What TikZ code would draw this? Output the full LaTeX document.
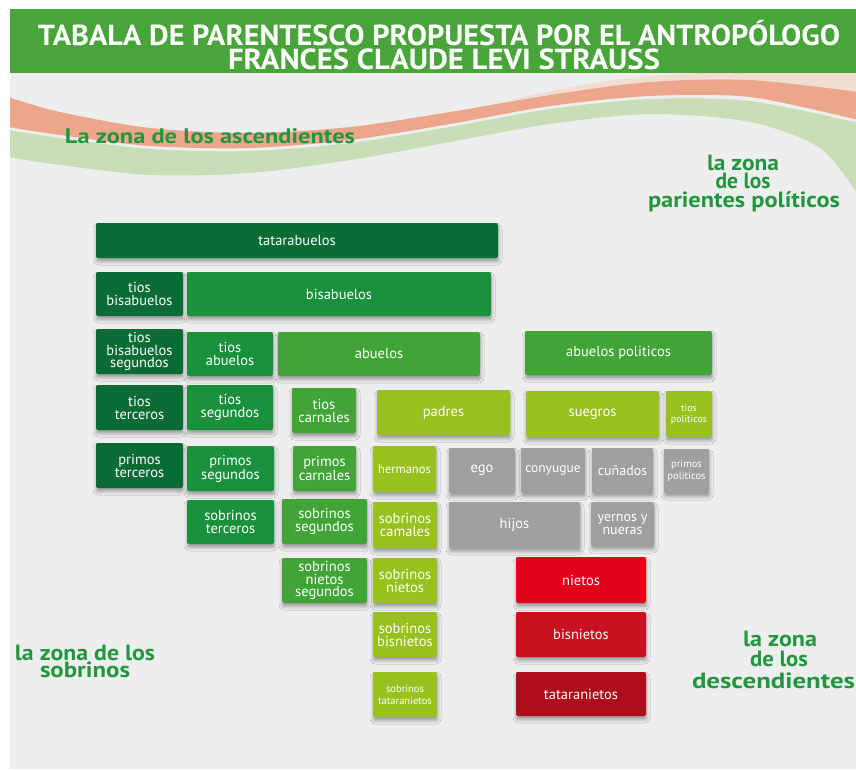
\documentclass[tikz,border=0pt]{standalone}
\usepackage{fontspec}
\setmainfont{PT Sans}
\usetikzlibrary{shadows,shadows.blur}
\definecolor{panel}{HTML}{EEEEEE}
\definecolor{hdr}{HTML}{49A43A}
\definecolor{salmon}{HTML}{EBA68B}
\definecolor{palesalmon}{HTML}{F2DDD3}
\definecolor{wavegreen}{HTML}{C8DEB6}
\definecolor{dkg}{HTML}{0B6B35}
\definecolor{mdg}{HTML}{18903C}
\definecolor{ltg}{HTML}{40A536}
\definecolor{ylg}{HTML}{96C11F}
\definecolor{gry}{HTML}{9E9FA1}
\definecolor{redA}{HTML}{E2001A}
\definecolor{redB}{HTML}{C8101F}
\definecolor{redC}{HTML}{AF0D1A}
\definecolor{lbl}{HTML}{22953F}
\newcommand{\fitw}[2]{\resizebox{#1}{\height}{#2}}
\begin{document}
\begin{tikzpicture}[x=1pt,y=-1pt,
  box/.style={rounded corners=2pt, inner sep=0pt, align=center, text=white,
    font=\fontsize{14.5}{13}\selectfont,
    blur shadow={shadow xshift=0.5pt, shadow yshift=-3.5pt, shadow blur radius=3.5pt, shadow opacity=35}},
  zonelabel/.style={text=lbl, font=\bfseries\fontsize{22}{22}\selectfont, inner sep=0pt, anchor=base},
  titletext/.style={text=white, font=\bfseries\fontsize{29}{29}\selectfont, inner sep=0pt, anchor=base}]
\useasboundingbox (0,0) rectangle (856,769);
\fill[white] (0,0) rectangle (856,769);
\fill[panel] (10,73) rectangle (856,769);
\fill[hdr] (10,9) rectangle (856,73);
% waves
\begin{scope}
\clip (10,73) rectangle (856,769);
\fill[palesalmon] plot[smooth] coordinates {(500,102) (600,82) (700,73) (856,72)}
  -- plot[smooth] coordinates {(856,92) (750,80) (650,82) (550,95) (500,102)} -- cycle;
\fill[salmon] plot[smooth] coordinates {(8,97) (60,112) (150,128) (250,133) (350,127) (450,112) (550,95) (650,82) (750,80) (858,92)}
  -- plot[smooth] coordinates {(858,120) (750,97) (650,96) (550,106) (450,124) (350,140) (250,148) (150,146) (60,135) (8,127)} -- cycle;
\fill[wavegreen] plot[smooth] coordinates {(8,130) (60,138) (150,149) (250,151) (350,143) (450,127) (550,109) (650,99) (750,101) (858,123)}
  -- plot[smooth] coordinates {(858,195) (820,148) (750,122) (650,114) (550,124) (450,142) (350,160) (250,173) (150,175) (60,165) (8,157)} -- cycle;
\end{scope}
% title
\node[titletext] (t1) at (439,45) {\fitw{802pt}{TABALA DE PARENTESCO PROPUESTA POR EL ANTROPÓLOGO}};
\node[titletext] (t2) at (444,69) {\fitw{432pt}{FRANCES CLAUDE LEVI STRAUSS}};
% zone labels
\node[zonelabel, font=\bfseries\fontsize{21}{21}\selectfont] (za) at (210,143) {\fitw{290pt}{La zona de los ascendientes}};
\node[zonelabel] (zp1) at (743,170) {\fitw{72pt}{la zona}};
\node[zonelabel] (zp2) at (743,188) {\fitw{55pt}{de los}};
\node[zonelabel] (zp3) at (744,207) {\fitw{192pt}{parientes políticos}};
\node[zonelabel] (zs1) at (85,660) {\fitw{140pt}{la zona de los}};
\node[zonelabel] (zs2) at (85,677) {\fitw{90pt}{sobrinos}};
\node[zonelabel] (zd1) at (780,646) {\fitw{74pt}{la zona}};
\node[zonelabel] (zd2) at (779,666) {\fitw{58pt}{de los}};
\node[zonelabel] (zd3) at (773.5,688) {\fitw{163pt}{descendientes}};
% boxes
\node[box, fill=dkg, minimum width=402pt, minimum height=35pt] (tatarabuelos) at (297,240.5) {tatarabuelos};
\node[box, fill=dkg, minimum width=87pt, minimum height=44pt] (tiosbis) at (139.5,294) {tios\\bisabuelos};
\node[box, fill=mdg, minimum width=304pt, minimum height=44pt] (bisabuelos) at (339,294) {bisabuelos};
\node[box, fill=dkg, minimum width=87pt, minimum height=45pt, font=\fontsize{14.5}{12.5}\selectfont] (tiosbisseg) at (139.5,351.5) {tios\\bisabuelos\\segundos};
\node[box, fill=mdg, minimum width=86pt, minimum height=44pt] (tiosabuelos) at (230,354) {tios\\abuelos};
\node[box, fill=ltg, minimum width=202pt, minimum height=44pt] (abuelos) at (379,354) {abuelos};
\node[box, fill=ltg, minimum width=187pt, minimum height=44pt] (abuelospol) at (618.5,353) {abuelos politicos};
\node[box, fill=dkg, minimum width=87pt, minimum height=45pt] (tiosterceros) at (139.5,407.5) {tios\\terceros};
\node[box, fill=mdg, minimum width=86pt, minimum height=45pt] (tiossegundos) at (230,407.5) {tios\\segundos};
\node[box, fill=ltg, minimum width=64pt, minimum height=45pt] (tioscarnales) at (324,410.5) {tios\\carnales};
\node[box, fill=ylg, minimum width=133pt, minimum height=45pt] (padres) at (443.5,412.5) {padres};
\node[box, fill=ylg, minimum width=133pt, minimum height=46pt] (suegros) at (592.5,414) {suegros};
\node[box, fill=ylg, minimum width=46pt, minimum height=46pt, font=\fontsize{10}{11}\selectfont] (tiospol) at (689,414) {tios\\politicos};
\node[box, fill=dkg, minimum width=87pt, minimum height=45pt] (primosterceros) at (139.5,465.5) {primos\\terceros};
\node[box, fill=mdg, minimum width=87pt, minimum height=45pt] (primossegundos) at (230.5,468.5) {primos\\segundos};
\node[box, fill=ltg, minimum width=63pt, minimum height=45pt] (primoscarnales) at (324.5,468.5) {primos\\carnales};
\node[box, fill=ylg, minimum width=63pt, minimum height=46pt, font=\fontsize{12.5}{12}\selectfont] (hermanos) at (404.5,469) {hermanos};
\node[box, fill=gry, minimum width=66pt, minimum height=45pt] (ego) at (482,470.5) {ego};
\node[box, fill=gry, minimum width=64pt, minimum height=45pt, font=\fontsize{13.5}{12}\selectfont] (conyugue) at (553,470.5) {conyugue};
\node[box, fill=gry, minimum width=61pt, minimum height=45pt, font=\fontsize{14}{12}\selectfont] (cunados) at (622.5,470.5) {cuñados};
\node[box, fill=gry, minimum width=45pt, minimum height=44pt, font=\fontsize{10.5}{11.5}\selectfont] (primospol) at (686.5,471) {primos\\politicos};
\node[box, fill=mdg, minimum width=87pt, minimum height=44pt] (sobrinosterceros) at (230.5,522) {sobrinos\\terceros};
\node[box, fill=ltg, minimum width=85pt, minimum height=45pt] (sobrinossegundos) at (324.5,521.5) {sobrinos\\segundos};
\node[box, fill=ylg, minimum width=64pt, minimum height=46pt] (sobrinoscamales) at (405,525) {sobrinos\\camales};
\node[box, fill=gry, minimum width=131pt, minimum height=46pt] (hijos) at (514.5,525) {hijos};
\node[box, fill=gry, minimum width=63pt, minimum height=44pt, font=\fontsize{14}{13}\selectfont] (yernos) at (622.5,524) {yernos y\\nueras};
\node[box, fill=ltg, minimum width=85pt, minimum height=45pt, font=\fontsize{14.5}{12.5}\selectfont] (sobrinosnietosseg) at (324.5,580.5) {sobrinos\\nietos\\segundos};
\node[box, fill=ylg, minimum width=64pt, minimum height=45pt] (sobrinosnietos) at (405,580.5) {sobrinos\\nietos};
\node[box, fill=redA, minimum width=130pt, minimum height=46pt] (nietos) at (581,580) {nietos};
\node[box, fill=ylg, minimum width=64pt, minimum height=45pt] (sobrinosbisnietos) at (405,634.5) {sobrinos\\bisnietos};
\node[box, fill=redB, minimum width=130pt, minimum height=45pt] (bisnietos) at (581,634.5) {bisnietos};
\node[box, fill=ylg, minimum width=64pt, minimum height=45pt, font=\fontsize{10.5}{12}\selectfont] (sobrinostatara) at (405,694.5) {sobrinos\\tataranietos};
\node[box, fill=redC, minimum width=130pt, minimum height=44pt] (tataranietos) at (581,694) {tataranietos};
\end{tikzpicture}
\end{document}
